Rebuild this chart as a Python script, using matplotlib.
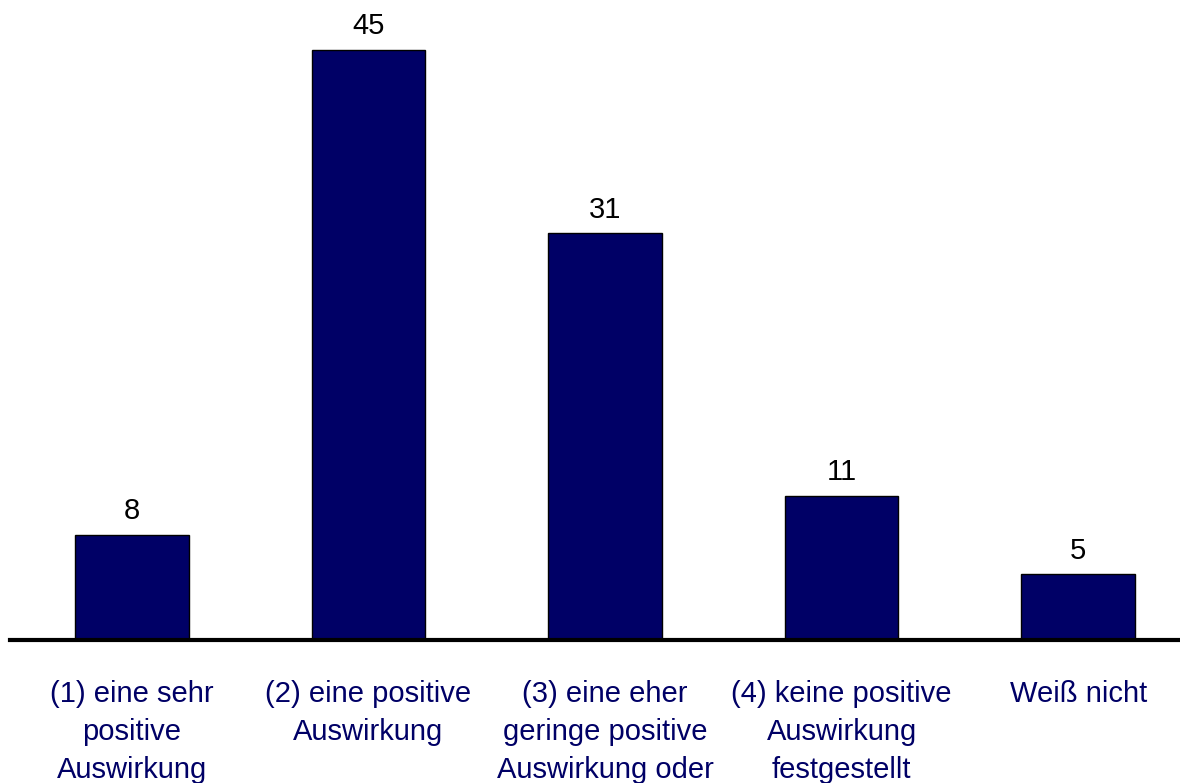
import matplotlib.pyplot as plt

plt.rcParams['font.family'] = ['Liberation Sans', 'DejaVu Sans']

kategorien = [
    '(1) eine sehr\npositive\nAuswirkung',
    '(2) eine positive\nAuswirkung',
    '(3) eine eher\ngeringe positive\nAuswirkung oder',
    '(4) keine positive\nAuswirkung\nfestgestellt',
    'Weiß nicht',
]
prozent = [8, 45, 31, 11, 5]

fig = plt.figure(figsize=(11.8, 7.83), dpi=100)
ax = fig.add_axes([10 / 1180, 143 / 783, 1170 / 1180, 640 / 783])

x = range(len(kategorien))
balken = ax.bar(x, prozent, width=0.48, color='#000066', edgecolor='black', linewidth=1)

for b, wert in zip(balken, prozent):
    ax.annotate(str(wert), (b.get_x() + b.get_width() / 2, b.get_height()),
                xytext=(0, 7), textcoords='offset points',
                ha='center', va='bottom', fontsize=21, color='black')

ax.set_xlim(-0.515, 4.43)
ax.set_ylim(0, 48.8)

for seite in ['top', 'right', 'left']:
    ax.spines[seite].set_visible(False)
ax.spines['bottom'].set_linewidth(3)
ax.spines['bottom'].set_color('black')

ax.set_yticks([])
ax.set_xticks(list(x))
ax.set_xticklabels(kategorien, fontsize=21, color='#000066', linespacing=1.45, va='top')
ax.tick_params(axis='x', length=0, pad=29)

fig.savefig('out.png', dpi=100)
